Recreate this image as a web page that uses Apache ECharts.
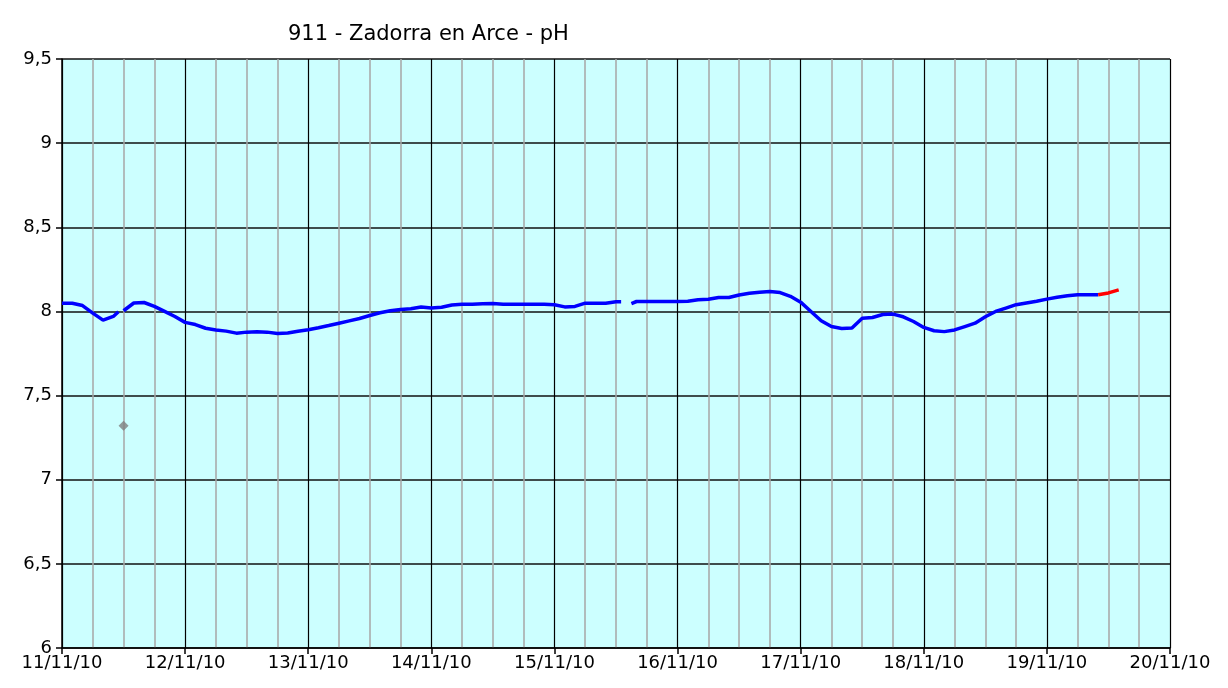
<!DOCTYPE html>
<html>
<head>
<meta charset="utf-8">
<script src="https://cdn.jsdelivr.net/npm/echarts@6/dist/echarts.min.js"></script>
<style>
html,body{margin:0;padding:0;background:#fff;}
#chart{width:1228px;height:688px;}
</style>
</head>
<body>
<div id="chart"></div>
<script>
// x tick labels (one per day, hour offsets 0,24,...,216 from 11/11/10 00:00)
var dateLabels = ['11/11/10','12/11/10','13/11/10','14/11/10','15/11/10','16/11/10','17/11/10','18/11/10','19/11/10','20/11/10'];

// blue series: hours since 11/11/10 00:00 and pH values (null = gap)
var blueHours = [0,2,4,6,8,10,11,11.5,12,14,16,18,20,22,24,26,28,30,32,34,36,38,40,42,44,46,48,50,52,54,56,58,60,62,64,66,68,70,72,74,76,78,80,82,84,86,88,90,92,94,96,98,100,102,104,106,108,109,110,111,112,114,116,118,120,122,124,126,128,130,132,134,136,138,140,142,144,146,148,150,152,154,156,158,160,162,164,166,168,170,172,174,176,178,180,182,184,186,188,190,192,194,196,198,200,202];
var blueValues = [8.049,8.049,8.035,7.99,7.948,7.97,7.998,null,8.004,8.05,8.053,8.03,8.0,7.97,7.935,7.922,7.90,7.89,7.883,7.871,7.877,7.879,7.877,7.869,7.872,7.882,7.891,7.903,7.916,7.93,7.944,7.958,7.976,7.992,8.004,8.012,8.016,8.026,8.02,8.025,8.038,8.042,8.042,8.045,8.047,8.043,8.043,8.043,8.043,8.043,8.04,8.027,8.03,8.049,8.049,8.049,8.057,8.057,null,8.047,8.059,8.059,8.059,8.059,8.059,8.06,8.069,8.072,8.083,8.083,8.098,8.108,8.114,8.118,8.112,8.09,8.055,8.0,7.945,7.91,7.899,7.902,7.96,7.964,7.982,7.984,7.968,7.94,7.905,7.885,7.88,7.89,7.91,7.93,7.968,8.0,8.02,8.04,8.05,8.06,8.073,8.084,8.093,8.099,8.099,8.099];

// red series (latest values)
var redHours = [202,204,206];
var redValues = [8.099,8.11,8.128];

// isolated grey point
var outlierHours = [12];
var outlierValues = [7.32];

function zip(h, v){ var out=[]; for(var i=0;i<h.length;i++){ out.push([h[i], v[i]]); } return out; }

var chart = echarts.init(document.getElementById('chart'), null, {renderer:'canvas'});
var font = 'DejaVu Sans';
chart.setOption({
  animation:false,
  backgroundColor:'#ffffff',
  title:{
    text:'911 - Zadorra en Arce - pH',
    left:283, top:19,
    textStyle:{fontFamily:font, fontSize:21, fontWeight:'normal', color:'#000'}
  },
  grid:{left:62, right:58, top:59, bottom:40, show:true, backgroundColor:'#CCFFFF', borderWidth:0, containLabel:false},
  xAxis:{
    type:'value', min:0, max:216, interval:24,
    axisLine:{show:true, onZero:false, lineStyle:{color:'#000', width:1.5}},
    axisTick:{show:true, inside:false, length:6, lineStyle:{color:'#000', width:1.5}},
    minorTick:{show:false, splitNumber:4},
    minorSplitLine:{show:true, lineStyle:{color:'#A6A6A6', width:1.5}},
    splitLine:{show:true, lineStyle:{color:'#000', width:1.2}},
    axisLabel:{fontFamily:font, fontSize:18, color:'#000', margin:6,
      formatter:function(v){ return dateLabels[Math.round(v/24)] || ''; }}
  },
  yAxis:{
    type:'value', min:6, max:9.5, interval:0.5,
    axisLine:{show:true, lineStyle:{color:'#000', width:1.5}},
    axisTick:{show:true, inside:false, length:6, lineStyle:{color:'#000', width:1.5}},
    splitLine:{show:true, lineStyle:{color:'#111', width:1.5}},
    axisLabel:{fontFamily:font, fontSize:18, color:'#000', margin:10,
      formatter:function(v){ return String(v).replace('.', ','); }}
  },
  series:[
    {type:'line', data:zip(blueHours, blueValues), showSymbol:false, connectNulls:false,
     lineStyle:{color:'#0000FF', width:3.5}, itemStyle:{color:'#0000FF'}, z:3},
    {type:'line', data:zip(redHours, redValues), showSymbol:false,
     lineStyle:{color:'#FF0000', width:3.5}, itemStyle:{color:'#FF0000'}, z:4},
    {type:'scatter', data:zip(outlierHours, outlierValues), symbol:'diamond', symbolSize:[10,10],
     itemStyle:{color:'#808080'}, z:5}
  ]
});
</script>
</body>
</html>
